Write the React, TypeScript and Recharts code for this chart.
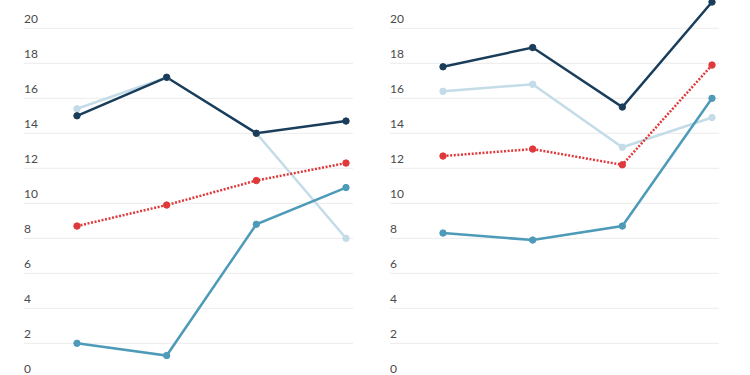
import { LineChart, Line, XAxis, YAxis, CartesianGrid } from 'recharts'

const categories = ['A', 'B', 'C', 'D']
const yTicks = [0, 2, 4, 6, 8, 10, 12, 14, 16, 18, 20]

// left panel
const leftDark = [15.0, 17.2, 14.0, 14.7]
const leftLight = [15.4, 17.2, 14.0, 8.0]
const leftRed = [8.7, 9.9, 11.3, 12.3]
const leftMid = [2.0, 1.3, 8.8, 10.9]

// right panel
const rightDark = [17.8, 18.9, 15.5, 21.5]
const rightLight = [16.4, 16.8, 13.2, 14.9]
const rightRed = [12.7, 13.1, 12.2, 17.9]
const rightMid = [8.3, 7.9, 8.7, 16.0]

const COLORS = {
  dark: '#193d5a',
  light: '#c3dce8',
  red: '#e0393b',
  mid: '#4e9bb9',
}

const buildRows = (dark: number[], light: number[], red: number[], mid: number[]) =>
  categories.map((c, i) => ({ cat: c, dark: dark[i], light: light[i], red: red[i], mid: mid[i] }))

interface PanelProps {
  left: number
  plotLeft: number
  plotRight: number
  rows: ReturnType<typeof buildRows>
}

const dotStyle = (color: string) => ({ r: 3.2, fill: color, stroke: color, strokeWidth: 1, strokeDasharray: '' })

function Panel({ left, plotLeft, plotRight, rows }: PanelProps) {
  const tick = (props: any) => {
    const { y, payload } = props
    return (
      <text x={plotLeft} y={y - 5} fill="#4a4a4a" fontSize={12} fontFamily="Lato, sans-serif" textAnchor="start">
        {payload.value}
      </text>
    )
  }
  return (
    <div style={{ position: 'absolute', left, top: -20 }}>
      <LineChart
        width={375}
        height={420}
        data={rows}
        margin={{ top: 13.3, right: 375 - plotRight, left: 0, bottom: 21.7 }}
      >
        <CartesianGrid vertical={false} stroke="#ececec" strokeWidth={1} />
        <XAxis dataKey="cat" hide padding={{ left: 53, right: 7 }} />
        <YAxis
          width={plotLeft}
          domain={[0, 22]}
          ticks={yTicks}
          axisLine={false}
          tickLine={false}
          tick={tick}
          interval={0}
        />
        <Line dataKey="light" stroke={COLORS.light} strokeWidth={2.5} dot={dotStyle(COLORS.light)} isAnimationActive={false} />
        <Line dataKey="mid" stroke={COLORS.mid} strokeWidth={2.5} dot={dotStyle(COLORS.mid)} isAnimationActive={false} />
        <Line dataKey="red" stroke={COLORS.red} strokeWidth={2.5} strokeDasharray="2 1.6" dot={dotStyle(COLORS.red)} isAnimationActive={false} />
        <Line dataKey="dark" stroke={COLORS.dark} strokeWidth={2.5} dot={dotStyle(COLORS.dark)} isAnimationActive={false} />
      </LineChart>
    </div>
  )
}

export default function App() {
  return (
    <div style={{ position: 'absolute', left: 0, top: 0, width: 750, height: 375, overflow: 'hidden', background: '#fff' }}>
      <Panel left={0} plotLeft={24} plotRight={353} rows={buildRows(leftDark, leftLight, leftRed, leftMid)} />
      <Panel left={375} plotLeft={15} plotRight={344} rows={buildRows(rightDark, rightLight, rightRed, rightMid)} />
    </div>
  )
}
